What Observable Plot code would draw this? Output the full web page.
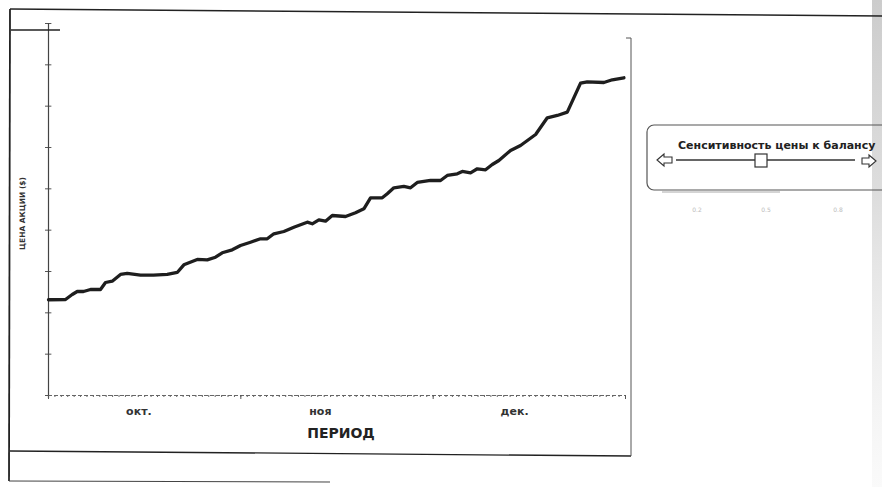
<!DOCTYPE html>
<html>
<head>
<meta charset="utf-8">
<script src="https://cdn.jsdelivr.net/npm/d3@7"></script>
<script src="https://cdn.jsdelivr.net/npm/@observablehq/plot@0.6"></script>
<style>
  html, body { margin: 0; padding: 0; background: #fff; }
  #wrap { position: relative; width: 882px; height: 487px; overflow: hidden; font-family: "DejaVu Sans", Verdana, sans-serif; }
  #wrap > svg { position: absolute; left: 0; top: 0; }
</style>
</head>
<body>
<div id="wrap"></div>
<script>
// Days since start of the period
const days = [0, 2.65, 3.7, 4.48, 5.46, 6.55, 8.11, 8.89, 9.94, 11.23, 12.28, 14.35, 16.38, 18.52, 20.08, 21.11,
  23.2, 24.76, 26.05, 27.1, 28.66, 29.95, 31.51, 33.07, 34.12, 35.15, 36.71, 38.27, 40.36, 41.14, 42.17, 43.21,
  44.26, 46.33, 47.89, 49.19, 50.23, 52.06, 52.84, 53.87, 55.43, 56.47, 57.52, 59.59, 61.15, 62.2, 63.76, 64.54,
  65.83, 66.88, 68.17, 69.22, 70.25, 72.07, 73.63, 75.98, 77.8, 79.36, 80.92, 82.99, 84.04, 86.63, 87.94, 89.75];
// Share price (axis units; tick labels are not shown on the original)
const price = [2.316, 2.323, 2.444, 2.516, 2.516, 2.565, 2.565, 2.734, 2.766, 2.928, 2.952, 2.911, 2.911, 2.928, 2.976, 3.162,
  3.291, 3.283, 3.346, 3.453, 3.525, 3.629, 3.709, 3.791, 3.791, 3.912, 3.968, 4.072, 4.193, 4.154, 4.251, 4.217,
  4.355, 4.331, 4.421, 4.517, 4.783, 4.783, 4.88, 5.025, 5.057, 5.025, 5.154, 5.202, 5.202, 5.323, 5.364, 5.42,
  5.388, 5.485, 5.461, 5.589, 5.686, 5.928, 6.049, 6.315, 6.719, 6.775, 6.855, 7.556, 7.59, 7.573, 7.638, 7.687];
const yTicks = [0, 1, 2, 3, 4, 5, 6, 7, 8, 9];
const xMajor = [0, 30, 60, 90];
const xMinor = d3.range(0, 91);
const monthPos = [14.1, 42.4, 72.7];
const monthLabels = ["окт.", "ноя", "дек."];
const xTitle = "ПЕРИОД";
const yTitle = "ЦЕНА АКЦИИ ($)";
const sliderTitle = "Сенситивность цены к балансу";
const sliderTicks = ["0.2", "0.5", "0.8"];

const data = days.map((d, i) => ({day: d, price: price[i]}));

const chart = Plot.plot({
  width: 882,
  height: 487,
  marginLeft: 48,
  marginRight: 257,
  marginTop: 23,
  marginBottom: 92,
  style: {fontFamily: "DejaVu Sans, Verdana, sans-serif", background: "transparent", overflow: "visible"},
  x: {domain: [0, 90]},
  y: {domain: [0, 9]},
  marks: [
    Plot.axisY({ticks: yTicks, tickSize: 3, tickFormat: () => "", stroke: "#555", label: null}),
    Plot.link(yTicks, {x1: 0, x2: 0.45, y1: d => d, y2: d => d, stroke: "#555", strokeWidth: 1}),
    Plot.ruleX([0], {y1: -0.08, y2: 9, stroke: "#444", strokeWidth: 1.2}),
    Plot.ruleY([0], {stroke: "#666", strokeWidth: 1, strokeDasharray: "4,2"}),
    Plot.axisX({ticks: xMinor, tickSize: 2, tickFormat: () => "", stroke: "#666", label: null}),
    Plot.axisX({ticks: xMajor, tickSize: 4, tickFormat: () => "", stroke: "#555", label: null}),
    Plot.axisX({ticks: monthPos, tickSize: 0, tickPadding: 12, tickFormat: (d, i) => monthLabels[i],
      fontSize: 11, fontWeight: "bold", fill: "#333", label: null}),
    Plot.text([xTitle], {frameAnchor: "bottom", dx: 4, dy: 42, fontSize: 14, fontWeight: "bold", fill: "#222"}),
    Plot.text([yTitle], {frameAnchor: "left", textAnchor: "middle", dx: -26, dy: 4, rotate: -90, fontSize: 7.5, fontWeight: "bold", fill: "#333"}),
    Plot.line(data, {x: "day", y: "price", stroke: "#1e1e1e", strokeWidth: 3.3, strokeLinejoin: "round", strokeLinecap: "round"})
  ]
});
document.getElementById("wrap").appendChild(chart);

// Decorations: scanned chart frame and slider control
const ov = d3.select("#wrap").append("svg").attr("width", 882).attr("height", 487);
const grad = ov.append("defs").append("linearGradient").attr("id", "edge").attr("x1", 0).attr("x2", 0).attr("y1", 0).attr("y2", 1);
grad.append("stop").attr("offset", "0%").attr("stop-color", "#aaa").attr("stop-opacity", 0.6);
grad.append("stop").attr("offset", "40%").attr("stop-color", "#bbb").attr("stop-opacity", 0.5);
grad.append("stop").attr("offset", "100%").attr("stop-color", "#eee").attr("stop-opacity", 0.3);
ov.append("rect").attr("x", 872).attr("y", 0).attr("width", 10).attr("height", 487).attr("fill", "url(#edge)");

const frame = ov.append("g").attr("stroke", "#222").attr("fill", "none");
frame.append("line").attr("x1", 10).attr("y1", 9).attr("x2", 882).attr("y2", 16).attr("stroke-width", 1.5);
frame.append("line").attr("x1", 10).attr("y1", 9).attr("x2", 9).attr("y2", 481).attr("stroke-width", 1.8);
frame.append("line").attr("x1", 11).attr("y1", 30).attr("x2", 60).attr("y2", 30).attr("stroke-width", 1.4);
frame.append("line").attr("x1", 10).attr("y1", 451).attr("x2", 631).attr("y2", 456).attr("stroke-width", 1.3);
frame.append("line").attr("x1", 631).attr("y1", 38).attr("x2", 631).attr("y2", 456).attr("stroke-width", 1).attr("stroke", "#555");
frame.append("line").attr("x1", 626).attr("y1", 38).attr("x2", 631).attr("y2", 38).attr("stroke-width", 1).attr("stroke", "#555");
frame.append("line").attr("x1", 9).attr("y1", 481).attr("x2", 330).attr("y2", 482).attr("stroke-width", 1.2).attr("stroke", "#444");

// slider box
const sl = ov.append("g");
sl.append("rect").attr("x", 647).attr("y", 125).attr("width", 250).attr("height", 65).attr("rx", 7)
  .attr("fill", "none").attr("stroke", "#555").attr("stroke-width", 1.2);
sl.append("line").attr("x1", 662).attr("y1", 192).attr("x2", 780).attr("y2", 192).attr("stroke", "#aaa").attr("stroke-width", 1);
sl.append("text").attr("x", 678).attr("y", 149).attr("font-size", 11).attr("font-weight", "bold")
  .attr("fill", "#222").attr("font-family", "DejaVu Sans, Verdana, sans-serif").text(sliderTitle);
sl.append("line").attr("x1", 676).attr("y1", 160).attr("x2", 855).attr("y2", 160).attr("stroke", "#333").attr("stroke-width", 1.3);
sl.append("rect").attr("x", 755).attr("y", 154).attr("width", 12).attr("height", 13)
  .attr("fill", "#fff").attr("stroke", "#333").attr("stroke-width", 1.2);
// left arrow
sl.append("path").attr("d", "M657,160 L664,154 L664,157 L672,157 L672,163 L664,163 L664,166 Z")
  .attr("fill", "#fff").attr("stroke", "#333").attr("stroke-width", 1.1);
// right arrow
sl.append("path").attr("d", "M876,161 L869,155 L869,158 L862,158 L862,164 L869,164 L869,167 Z")
  .attr("fill", "#fff").attr("stroke", "#333").attr("stroke-width", 1.1);
[697, 766, 838].forEach((x, i) => {
  sl.append("text").attr("x", x).attr("y", 212).attr("font-size", 6).attr("fill", "#bbb")
    .attr("text-anchor", "middle").attr("font-family", "DejaVu Sans, sans-serif").text(sliderTicks[i]);
});
</script>
</body>
</html>
